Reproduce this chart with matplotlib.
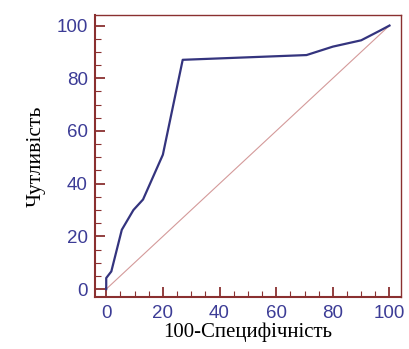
import matplotlib
matplotlib.use("Agg")
import matplotlib.pyplot as plt
from matplotlib.ticker import MultipleLocator

# ROC curve points
fpr = [0, 0, 1.8, 5.5, 9.6, 13, 20, 27, 70.7, 80, 90, 96.5, 100]
tpr = [0, 4.2, 6.7, 22.5, 30, 34, 51, 87, 88.8, 92, 94.4, 98, 100]
diag = [0, 100]

frame_col = '#8a3030'
tick_col = '#3c3c96'
line_col = '#34347e'

fig = plt.figure(figsize=(4.09, 3.49), dpi=100)
ax = fig.add_axes([0.232, 0.149, 0.748, 0.808])

ax.plot(diag, diag, color='#d49a9a', lw=0.8)
ax.plot(fpr, tpr, color=line_col, lw=1.6)

ax.set_xlim(-4, 104)
ax.set_ylim(-3, 104)
ax.xaxis.set_major_locator(MultipleLocator(20))
ax.yaxis.set_major_locator(MultipleLocator(20))
ax.xaxis.set_minor_locator(MultipleLocator(5))
ax.yaxis.set_minor_locator(MultipleLocator(5))

for s in ax.spines.values():
    s.set_color(frame_col)
    s.set_linewidth(1.5)
ax.spines['top'].set_linewidth(1.0)
ax.spines['right'].set_linewidth(1.0)

ax.tick_params(which='both', direction='in', color=frame_col, top=False, right=False)
ax.tick_params(which='major', length=7, width=1.3, labelsize=13.5, labelcolor=tick_col)
ax.tick_params(axis='x', which='major', pad=6)
ax.tick_params(axis='y', which='major', pad=5)
ax.tick_params(which='minor', length=4, width=0.8)
for lbl in ax.get_xticklabels() + ax.get_yticklabels():
    lbl.set_family('Liberation Sans')

ax.set_xlabel('100-Специфічність', family='Liberation Serif', fontsize=15, labelpad=0)
ax.set_ylabel('Чутливість', family='Liberation Serif', fontsize=15.5, labelpad=8)

fig.savefig('out.png', dpi=100)
